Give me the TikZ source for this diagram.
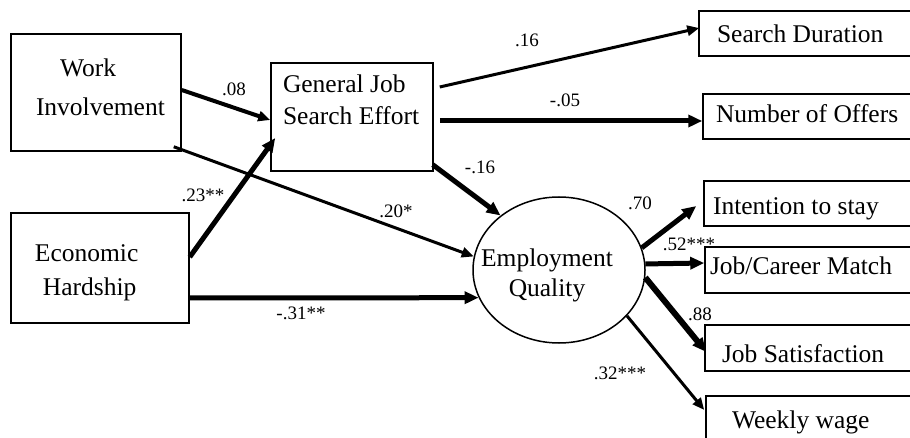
\documentclass[tikz,border=0pt]{standalone}
\usepackage{fontspec}
\setmainfont{Liberation Serif}
\usetikzlibrary{arrows.meta,shapes.geometric}
\newcommand{\bxt}[4]{\parbox[c][#2][t]{#1}{\raggedright\vspace*{#3}#4}}
\newcommand{\ls}[1]{\rule{0pt}{18pt}\hspace*{#1}}
\tikzset{
  box/.style={draw, line width=1.5pt, rectangle, inner sep=0pt},
  lab/.style={font=\fontsize{19pt}{21pt}\selectfont, inner sep=0pt},
  arr/.style={-{Triangle[length=14pt,width=12pt]}},
  arrs/.style={-{Triangle[length=12pt,width=10pt]}},
}
\begin{document}
\begin{tikzpicture}[x=1pt,y=-1pt]
\useasboundingbox (0,0) rectangle (910,438);
\clip (0,0) rectangle (910,438);
\fill[white] (0,0) rectangle (910,438);

% left boxes
\node[box] (wi) at (96,92.5) {\bxt{170pt}{117pt}{25pt}{\fontsize{25.5pt}{39pt}\selectfont\ls{49pt}Work\\\ls{25pt}Involvement}};
\node[box] (gj) at (352,117) {\bxt{162pt}{108pt}{12pt}{\fontsize{25.5pt}{32pt}\selectfont\ls{12pt}General Job\\\ls{12pt}Search Effort}};
\node[box] (eh) at (100,268) {\bxt{178pt}{110pt}{31pt}{\fontsize{25.5pt}{34pt}\selectfont\ls{24pt}Economic\\\ls{32pt}Hardship}};

% latent
\node[draw, ellipse, line width=1.5pt, minimum width=172pt, minimum height=146pt, inner sep=0pt] (eq) at (559,270)
  {\makebox[0pt]{\hspace*{-24pt}\raisebox{3pt}[0pt][0pt]{\parbox[t]{160pt}{\centering\fontsize{25.5pt}{30pt}\selectfont Employment\\Quality}}}};

% right boxes
\node[box] (sd) at (819,33.5) {\bxt{240pt}{45pt}{14pt}{\fontsize{25.5pt}{30pt}\selectfont\ls{18pt}Search Duration}};
\node[box] (no) at (823,116.5) {\bxt{240pt}{45pt}{11pt}{\fontsize{25.5pt}{30pt}\selectfont\ls{13pt}Number of Offers}};
\node[box] (is) at (824,203.5) {\bxt{240pt}{45pt}{16pt}{\fontsize{25.5pt}{30pt}\selectfont\ls{9pt}Intention to stay}};
\node[box] (jc) at (825,270) {\bxt{240pt}{46pt}{10pt}{\fontsize{25.5pt}{30pt}\selectfont\ls{5pt}Job/Career Match}};
\node[box] (js) at (825,348) {\bxt{240pt}{46pt}{19pt}{\fontsize{25.5pt}{30pt}\selectfont\ls{17pt}Job Satisfaction}};
\node[box] (ww) at (826,426) {\bxt{240pt}{60pt}{14pt}{\fontsize{25.5pt}{30pt}\selectfont\ls{26pt}Weekly wage}};

% connectors
\draw[arrs, line width=4pt] ([yshift=2.5pt]wi.east) -- ([yshift=-3pt]gj.west);
\draw[arrs, line width=3pt] ([xshift=-8pt,yshift=5pt]wi.south east) -- (eq.171);
\draw[arr, line width=5pt] ([yshift=11pt]eh.east) -- ([xshift=5pt,yshift=-21pt]gj.west);
\draw[arr, line width=5pt] ([yshift=-30pt]eh.east) -- (eq.199.4);
\draw[arrs, line width=3pt] ([xshift=6pt,yshift=30pt]gj.east) -- ([xshift=1pt,yshift=5.5pt]sd.west);
\draw[arr, line width=5pt] ([xshift=6pt,yshift=-4pt]gj.east) -- ([yshift=-4.5pt]no.west);
\draw[arr, line width=5pt] ([xshift=-1pt,yshift=7pt]gj.south east) -- (eq.137);
\draw[arr, line width=5pt] (eq.15) -- ([xshift=-7pt,yshift=-2.5pt]is.west);
\draw[arr, line width=5pt] (eq.4.7) -- ([yshift=7pt]jc.west);
\draw[arr, line width=6pt] (eq.-5.4) -- ([xshift=2pt,yshift=-4pt]js.west);
\draw[arrs, line width=3pt] (eq.-34.8) -- ([xshift=-1pt,yshift=16pt]ww.west);

% labels
\node[lab] (l08) at (234,89) {.08};
\node[lab] (l20) at (396,211) {.20*};
\node[lab] (l23) at (203,195) {.23**};
\node[lab] (l31) at (301,313) {-.31**};
\node[lab] (l16) at (527,40) {.16};
\node[lab] (l05) at (565,100) {-.05};
\node[lab] (l16b) at (480,167) {-.16};
\node[lab] (l70) at (640,203) {.70};
\node[lab] (l52) at (689,244) {.52***};
\node[lab] (l88) at (700,314) {.88};
\node[lab] (l32) at (620,373) {.32***};
\end{tikzpicture}
\end{document}
